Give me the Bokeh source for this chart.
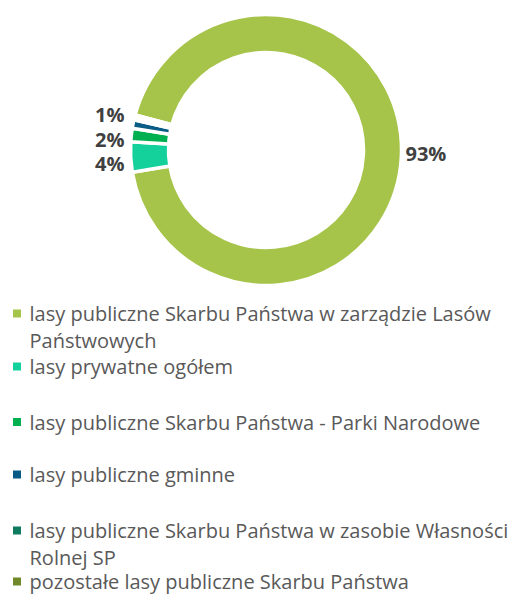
import math
from bokeh.plotting import figure
from bokeh.models import Range1d
from bokeh.core.properties import value
from bokeh.embed import file_html
from bokeh.resources import INLINE

categories = [
    "lasy publiczne Skarbu Państwa w zarządzie Lasów Państwowych",
    "lasy prywatne ogółem",
    "lasy publiczne Skarbu Państwa - Parki Narodowe",
    "lasy publiczne gminne",
    "lasy publiczne Skarbu Państwa w zasobie Własności Rolnej SP",
    "pozostałe lasy publiczne Skarbu Państwa",
]
shares = [93.2, 3.6, 1.6, 1.0, 0.35, 0.25]
colors = ["#A6C44A", "#14D19C", "#00B050", "#085C86", "#0E7B60", "#70892A"]
legend_lines = [
    ["lasy publiczne Skarbu Państwa w zarządzie Lasów", "Państwowych"],
    ["lasy prywatne ogółem"],
    ["lasy publiczne Skarbu Państwa - Parki Narodowe"],
    ["lasy publiczne gminne"],
    ["lasy publiczne Skarbu Państwa w zasobie Własności", "Rolnej SP"],
    ["pozostałe lasy publiczne Skarbu Państwa"],
]

W, H = 516, 595
p = figure(width=W, height=H, output_backend="svg", toolbar_location=None,
           x_range=Range1d(0, W), y_range=Range1d(0, H),
           min_border=0, outline_line_color=None)
p.axis.visible = False
p.grid.visible = False

def Y(sy):
    return H - sy

cx, cy = 265.5, Y(149.5)
r_out, r_in = 135.5, 97.5
start = 285.0  # clockwise from 12 o'clock
total = sum(shares)
acc = start
for v, c in zip(shares, colors):
    span = v / total * 360.0
    a0, a1 = acc, acc + span
    p.annular_wedge(x=cx, y=cy, inner_radius=r_in, outer_radius=r_out,
                    start_angle=math.radians(90 - a0), end_angle=math.radians(90 - a1),
                    direction="clock", fill_color=c, line_color="white", line_width=3.5)
    acc = a1

# data labels
lab_font = value("Open Sans")
p.text(x=[405], y=[Y(153)], text=[f"{shares[0]:.0f}%"], text_font=lab_font,
       text_font_size="20px", text_font_style="bold", text_color="#404040",
       text_align="left", text_baseline="middle")
p.text(x=[124, 124, 124], y=[Y(163), Y(139), Y(114)],
       text=[f"{shares[1]:.0f}%", f"{shares[2]:.0f}%", f"{shares[3]:.0f}%"],
       text_font=lab_font, text_font_size="20px", text_font_style="bold",
       text_color="#404040", text_align="right", text_baseline="middle")

# legend
entry_y = [313, 366, 421.5, 474, 530, 581]
line_h = 26.5
for lines, c, ey in zip(legend_lines, colors, entry_y):
    p.rect(x=[16.5], y=[Y(ey)], width=8, height=8, fill_color=c, line_color=None)
    for k, t in enumerate(lines):
        p.text(x=[29], y=[Y(ey + k * line_h)], text=[t], text_font=lab_font,
               text_font_size="20px", text_color="#595959",
               text_align="left", text_baseline="middle")

open("out.html", "w").write(file_html(p, INLINE))
